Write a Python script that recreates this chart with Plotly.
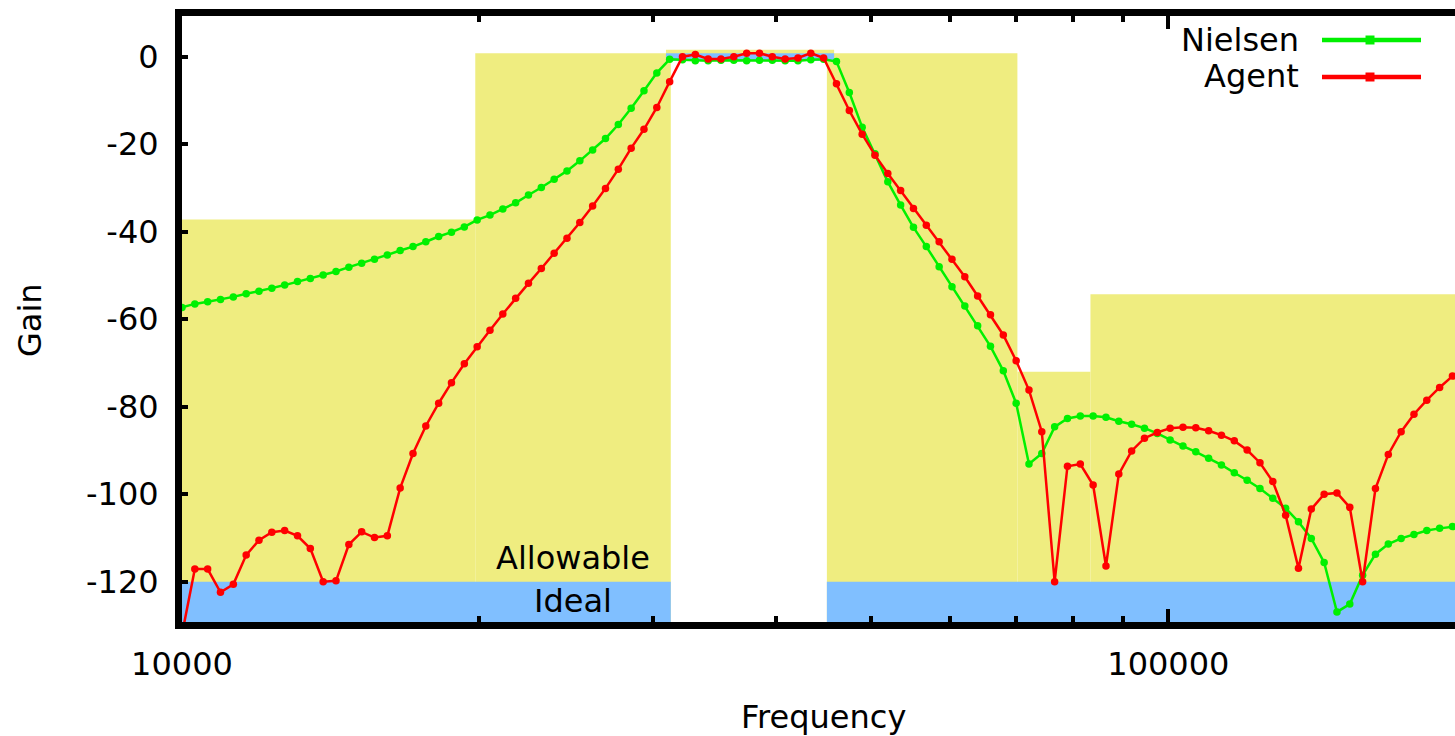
import plotly.graph_objects as go

# ---------------- data ----------------
freq = [10000, 10304, 10617, 10940, 11273, 11616, 11969, 12333, 12708, 13095,
        13493, 13903, 14326, 14762, 15211, 15673, 16150, 16641, 17147, 17668,
        18206, 18759, 19330, 19918, 20523, 21147, 21791, 22453, 23136, 23840,
        24565, 25312, 26081, 26875, 27692, 28534, 29402, 30296, 31217, 32167,
        33145, 34152, 35191, 36261, 37364, 38500, 39671, 40878, 42121, 43402,
        44721, 46081, 47483, 48927, 50415, 51948, 53528, 55155, 56833, 58561,
        60342, 62177, 64068, 66016, 68024, 70092, 72224, 74420, 76683, 79015,
        81418, 83894, 86445, 89074, 91783, 94574, 97450, 100414, 103468, 106614,
        109856, 113197, 116639, 120186, 123841, 127608, 131488, 135487, 139607, 143853,
        148227, 152735, 157380, 162168, 167098, 172180, 177415, 182810, 188370, 194098,
        200000]

nielsen = [-57.3, -56.5, -56.0, -55.5, -54.9, -54.2, -53.6, -52.9, -52.2, -51.4,
           -50.7, -49.9, -49.1, -48.1, -47.2, -46.3, -45.3, -44.3, -43.4, -42.3,
           -41.1, -40.1, -38.9, -37.3, -36.2, -34.8, -33.4, -31.6, -29.9, -28.0,
           -26.1, -23.8, -21.3, -18.7, -15.5, -11.8, -7.8, -3.7, -0.6, -0.7,
           -0.9, -0.9, -0.8, -0.8, -0.9, -0.8, -0.8, -0.9, -0.9, -0.7,
           -0.6, -1.1, -8.2, -16.1, -22.2, -28.6, -33.9, -39.0, -43.4, -48.0,
           -52.6, -57.0, -61.5, -66.2, -71.8, -79.2, -93.1, -90.7, -84.6, -82.7,
           -82.1, -82.1, -82.4, -83.3, -84.0, -84.9, -86.1, -87.6, -89.0, -90.3,
           -91.8, -93.3, -95.1, -96.8, -98.7, -100.9, -103.2, -106.3, -110.1, -115.6,
           -126.9, -125.1, -118.5, -113.7, -111.4, -110.1, -109.2, -108.3, -107.8, -107.4,
           -107.1]

agent = [-132.0, -117.1, -117.1, -122.4, -120.6, -113.9, -110.5, -108.7, -108.3, -109.5,
         -112.4, -120.0, -119.8, -111.5, -108.6, -109.9, -109.5, -98.6, -90.7, -84.4,
         -79.2, -74.5, -70.2, -66.3, -62.5, -58.8, -55.2, -51.8, -48.4, -44.9,
         -41.5, -37.9, -34.1, -30.1, -25.7, -20.9, -16.6, -11.6, -5.7, 0.0,
         0.5, -0.5, -0.5, 0.0, 0.8, 0.8, 0.0, -0.5, -0.3, 0.8,
         -0.3, -6.2, -12.3, -17.7, -22.5, -26.7, -30.6, -34.7, -38.5, -42.3,
         -46.3, -50.3, -54.7, -59.0, -63.6, -69.5, -76.2, -85.7, -120.0, -93.6,
         -93.1, -97.9, -116.4, -95.4, -90.1, -87.2, -85.9, -84.9, -84.7, -84.8,
         -85.5, -86.5, -87.8, -89.9, -92.8, -97.1, -104.8, -116.9, -103.4, -100.0,
         -99.7, -103.0, -120.0, -98.7, -90.9, -85.7, -81.7, -78.5, -75.6, -73.0,
         -70.6]

# specification regions (frequency edges, gain bounds)
allow_f0 = [10000, 19830, 30950, 45060, 70300, 83370]
allow_f1 = [19830, 31300, 45830, 70300, 83370, 200000]
allow_lo = [-130, -130, -1.0, -130, -130, -130]
allow_hi = [-37.2, 0.8, 1.6, 0.8, -72.0, -54.3]

ideal_f0 = [10000, 30950, 45060]
ideal_f1 = [31300, 45830, 200000]
ideal_lo = [-130, -1.0, -130]
ideal_hi = [-120, 0.8, -120]

x_major = [10000, 100000]
x_major_text = ["10000", "100000"]
x_minor = [20000, 30000, 40000, 50000, 60000, 70000, 80000, 90000, 200000]
y_ticks = [0, -20, -40, -60, -80, -100, -120]
y_tick_text = ["0", "-20", "-40", "-60", "-80", "-100", "-120"]

series_names = ["Nielsen", "Agent"]

# ---------------- styling ----------------
W, H = 1455, 736
PLOT_L, PLOT_T, PLOT_B = 182, 16, 622   # plot area edges in page pixels
L, R, T, B = PLOT_L, 0, PLOT_T, H - PLOT_B
PW, PH = W - PLOT_L, PLOT_B - PLOT_T
FONT = "DejaVu Sans"
FS = 32
GREEN = "#00f000"
RED = "#ff0000"
YELLOW = "#efed80"
BLUE = "#80bfff"
X_RANGE = [4.0, 5.2906]
Y_RANGE = [-129.2, 9.3]


def px(x):
    return (x - PLOT_L) / PW


def py(y):
    return (PLOT_B - y) / PH


fig = go.Figure()

fig.add_trace(go.Scatter(
    x=freq, y=nielsen, mode="lines+markers", name=series_names[0],
    line=dict(color=GREEN, width=2.5), marker=dict(color=GREEN, size=7.5),
    showlegend=False))
fig.add_trace(go.Scatter(
    x=freq, y=agent, mode="lines+markers", name=series_names[1],
    line=dict(color=RED, width=2.5), marker=dict(color=RED, size=7.5),
    showlegend=False))

shapes = []
for f0, f1, lo, hi in zip(allow_f0, allow_f1, allow_lo, allow_hi):
    shapes.append(dict(type="rect", xref="x", yref="y", x0=f0, x1=f1, y0=lo, y1=hi,
                       fillcolor=YELLOW, line=dict(width=0), layer="below"))
for f0, f1, lo, hi in zip(ideal_f0, ideal_f1, ideal_lo, ideal_hi):
    shapes.append(dict(type="rect", xref="x", yref="y", x0=f0, x1=f1, y0=lo, y1=hi,
                       fillcolor=BLUE, line=dict(width=0), layer="below"))

# manual legend (text left of sample, like gnuplot)
legend_rows = [(series_names[0], GREEN, 40, 39.5), (series_names[1], RED, 77, 75.5)]
annotations = []
for name, col, yy, ty in legend_rows:
    annotations.append(dict(text=name, xref="paper", yref="paper", x=px(1301), y=py(ty),
                            xanchor="right", yanchor="middle", showarrow=False,
                            font=dict(family=FONT, size=FS, color="black")))
    shapes.append(dict(type="line", xref="paper", yref="paper", x0=px(1322), x1=px(1421),
                       y0=py(yy), y1=py(yy), line=dict(color=col, width=4.5)))
    shapes.append(dict(type="rect", xref="paper", yref="paper", x0=px(1365.5), x1=px(1374.5),
                       y0=py(yy + 4.5), y1=py(yy - 4.5), fillcolor=col, line=dict(width=0)))

annotations.append(dict(text="Allowable", xref="paper", yref="paper", x=px(573), y=py(558),
                        xanchor="center", yanchor="middle", showarrow=False,
                        font=dict(family=FONT, size=FS, color="black")))
annotations.append(dict(text="Ideal", xref="paper", yref="paper", x=px(573), y=py(601),
                        xanchor="center", yanchor="middle", showarrow=False,
                        font=dict(family=FONT, size=FS, color="black")))
annotations.append(dict(text="Frequency", xref="paper", yref="paper", x=px(823), y=py(716.5),
                        xanchor="center", yanchor="middle", showarrow=False,
                        font=dict(family=FONT, size=FS, color="black")))
annotations.append(dict(text="Gain", xref="paper", yref="paper", x=px(30), y=py(320),
                        xanchor="center", yanchor="middle", showarrow=False, textangle=-90,
                        font=dict(family=FONT, size=FS, color="black")))

fig.update_layout(
    width=W, height=H,
    margin=dict(l=L, r=R, t=T, b=B, pad=0),
    paper_bgcolor="white", plot_bgcolor="white",
    font=dict(family=FONT, size=FS, color="black"),
    showlegend=False,
    shapes=shapes, annotations=annotations,
    xaxis=dict(type="log", range=X_RANGE, tickvals=x_major, ticktext=x_major_text,
               ticks="inside", ticklen=13, tickwidth=4, tickcolor="black",
               showline=True, linewidth=7, linecolor="black", mirror="ticks",
               showgrid=False, zeroline=False, ticklabelstandoff=8,
               tickfont=dict(family=FONT, size=FS, color="black")),
    xaxis2=dict(type="log", range=X_RANGE, overlaying="x", anchor="y", side="bottom",
                tickvals=x_minor, showticklabels=False,
                ticks="inside", ticklen=6, tickwidth=4, tickcolor="black",
                showline=False, mirror="ticks", showgrid=False, zeroline=False),
    yaxis=dict(range=Y_RANGE, tickvals=y_ticks, ticktext=y_tick_text,
               ticks="inside", ticklen=6, tickwidth=4, tickcolor="black",
               showline=True, linewidth=7, linecolor="black", mirror=False,
               showgrid=False, zeroline=False, ticklabelstandoff=10,
               tickfont=dict(family=FONT, size=FS, color="black")),
)

# invisible trace so the minor-tick axis renders
fig.add_trace(go.Scatter(x=[freq[0]], y=[agent[0]], xaxis="x2", yaxis="y", mode="markers",
                         marker=dict(opacity=0), hoverinfo="skip", showlegend=False))

# remove the default page margin so the figure fills the window exactly
fig.write_html(
    "out.html",
    config={"displayModeBar": False},
    post_script="document.body.style.margin='0';document.body.style.overflow='hidden';",
)
